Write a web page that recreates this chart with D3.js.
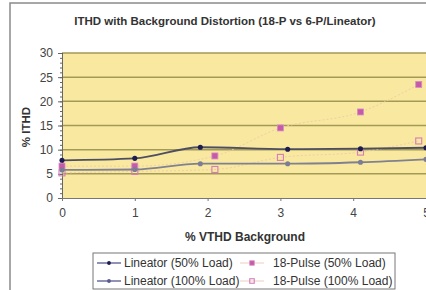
<!DOCTYPE html>
<html>
<head>
<meta charset="utf-8">
<script src="https://cdn.jsdelivr.net/npm/d3@7"></script>
<style>
  body { margin: 0; background: #fff; }
  svg { display: block; font-family: Arial, "Liberation Sans", sans-serif; }
</style>
</head>
<body>
<div id="chart"></div>
<script>
// values
const lineatorX = [0, 1, 1.9, 3.1, 4.1, 5];
const lineator50 = [7.8, 8.2, 10.5, 10.1, 10.2, 10.4];
const lineator100 = [5.8, 5.9, 7.1, 7.1, 7.4, 8.0];
const pulseX = [0, 1, 2.1, 3, 4.1, 4.9];
const pulse50 = [6.6, 6.6, 8.7, 14.5, 17.8, 23.5];
const pulse100 = [5.2, 5.5, 5.9, 8.4, 9.5, 11.8];
const xTicks = [0, 1, 2, 3, 4, 5];
const yTicks = [0, 5, 10, 15, 20, 25, 30];
const seriesNames = ["Lineator (50% Load)", "Lineator (100% Load)",
                     "18-Pulse (50% Load)", "18-Pulse (100% Load)"];

const width = 426, height = 290;
const svg = d3.select("#chart").append("svg")
    .attr("width", width)
    .attr("height", height);

// outer chart frame
svg.append("rect")
    .attr("x", 10).attr("y", 3)
    .attr("width", 430).attr("height", 300)
    .style("fill", "#fff")
    .style("stroke", "#8a8a8a")
    .style("stroke-width", 1.5);

var x = d3.scaleLinear().domain([0, 5]).range([62, 426]);
var y = d3.scaleLinear().domain([0, 30]).range([198, 53]);

// plot area
svg.append("rect")
    .attr("x", x(0)).attr("y", y(30))
    .attr("width", x(5) - x(0) + 2).attr("height", y(0) - y(30))
    .style("fill", "#f8e8a0");

// gridlines
svg.append("g")
    .selectAll("line")
    .data(yTicks.filter(d => d > 0))
    .enter()
    .append("line")
    .attr("x1", x(0)).attr("x2", width)
    .attr("y1", d => y(d)).attr("y2", d => y(d))
    .style("stroke", "#a39a55")
    .style("stroke-width", 1.5);

// y axis with minor ticks
var yAxis = svg.append("g")
    .attr("transform", "translate(" + x(0) + ",0)");
yAxis.call(d3.axisLeft(y).tickValues(d3.range(0, 31, 1)).tickSize(2).tickFormat(""));
yAxis.call(g => g.selectAll("line").style("stroke", "#666"));
var yMajor = svg.append("g")
    .attr("transform", "translate(" + x(0) + ",0)")
    .call(d3.axisLeft(y).tickValues(yTicks).tickSize(4).tickPadding(5));
yMajor.selectAll("text").style("font-size", "12px").style("fill", "#444")
    .style("font-family", "Arial, 'Liberation Sans', sans-serif");
yMajor.selectAll("line, path").style("stroke", "#666");

// x axis
var xAxis = svg.append("g")
    .attr("transform", "translate(0," + y(0) + ")")
    .call(d3.axisBottom(x).tickValues(xTicks).tickFormat(d3.format("d")).tickSize(3).tickPadding(7));
xAxis.selectAll("text").style("font-size", "12px").style("fill", "#444")
    .style("font-family", "Arial, 'Liberation Sans', sans-serif");
xAxis.selectAll("line, path").style("stroke", "#777");

// title and axis titles
svg.append("text")
    .attr("x", 225).attr("y", 25)
    .attr("text-anchor", "middle")
    .style("font-size", "11.5px").style("font-weight", "bold").style("fill", "#333")
    .text("ITHD with Background Distortion (18-P vs 6-P/Lineator)");
svg.append("text")
    .attr("x", 245).attr("y", 241)
    .attr("text-anchor", "middle")
    .style("font-size", "12px").style("font-weight", "bold").style("fill", "#333")
    .text("% VTHD Background");
svg.append("text")
    .attr("transform", "translate(30,127) rotate(-90)")
    .attr("text-anchor", "middle")
    .style("font-size", "11.5px").style("font-weight", "bold").style("fill", "#333")
    .text("% ITHD");

const series = [
    {xs: lineatorX, ys: lineator50, line: "#4e4e62", lw: 1.8, dash: null, mark: "#1c1c50", shape: "dot"},
    {xs: lineatorX, ys: lineator100, line: "#808090", lw: 1.8, dash: null, mark: "#7c7c94", shape: "dot"},
    {xs: pulseX, ys: pulse50, line: "#f0cfa8", lw: 1, dash: "2,2", mark: "#c45aa8", shape: "square"},
    {xs: pulseX, ys: pulse100, line: "#f0cfa8", lw: 1, dash: "2,2", mark: "#d77cba", shape: "open"}
];

var line = d3.line()
    .x(d => x(d[0]))
    .y(d => y(d[1]))
    .curve(d3.curveMonotoneX);

function drawMarker(g, shape, color, cx, cy, size) {
    var h = size / 2;
    if (shape === "dot") {
        g.append("circle").attr("cx", cx).attr("cy", cy).attr("r", h * 0.85).style("fill", color);
    } else if (shape === "square") {
        g.append("rect").attr("x", cx - h).attr("y", cy - h).attr("width", size).attr("height", size)
            .style("fill", color).style("stroke", "#d88cc4").style("stroke-width", 0.8);
    } else {
        g.append("rect").attr("x", cx - h).attr("y", cy - h).attr("width", size).attr("height", size)
            .style("fill", "none").style("stroke", color).style("stroke-width", 1.1);
    }
}

var plot = svg.append("g");
// draw 18-pulse first, then lineator on top
[2, 3, 1, 0].forEach(function (i) {
    var s = series[i];
    var pts = s.xs.map((v, k) => [v, s.ys[k]]);
    plot.append("path")
        .datum(pts)
        .attr("d", line)
        .style("fill", "none")
        .style("stroke", s.line)
        .style("stroke-width", s.lw)
        .style("stroke-dasharray", s.dash);
    pts.forEach(p => drawMarker(plot, s.shape, s.mark, x(p[0]), y(p[1]), 6));
});

// legend
var legend = svg.append("g");
legend.append("rect")
    .attr("x", 93).attr("y", 253)
    .attr("width", 302).attr("height", 36)
    .style("fill", "#fff")
    .style("stroke", "#777")
    .style("stroke-width", 1);
const legendPos = [[97, 263], [97, 281], [240, 263], [240, 281]];
seriesNames.forEach(function (name, i) {
    var s = series[i];
    var lx = legendPos[i][0], ly = legendPos[i][1];
    legend.append("line")
        .attr("x1", lx).attr("x2", lx + 24)
        .attr("y1", ly).attr("y2", ly)
        .style("stroke", i < 2 ? "#4a4a8a" : "#f0d8c8")
        .style("stroke-width", 1.2);
    drawMarker(legend, s.shape, i === 1 ? "#5a5a90" : s.mark, lx + 12, ly, 4.5);
    legend.append("text")
        .attr("x", i < 2 ? lx + 27 : lx + 33).attr("y", ly + 4)
        .style("font-size", "12px").style("fill", "#333")
        .text(name);
});
</script>
</body>
</html>
